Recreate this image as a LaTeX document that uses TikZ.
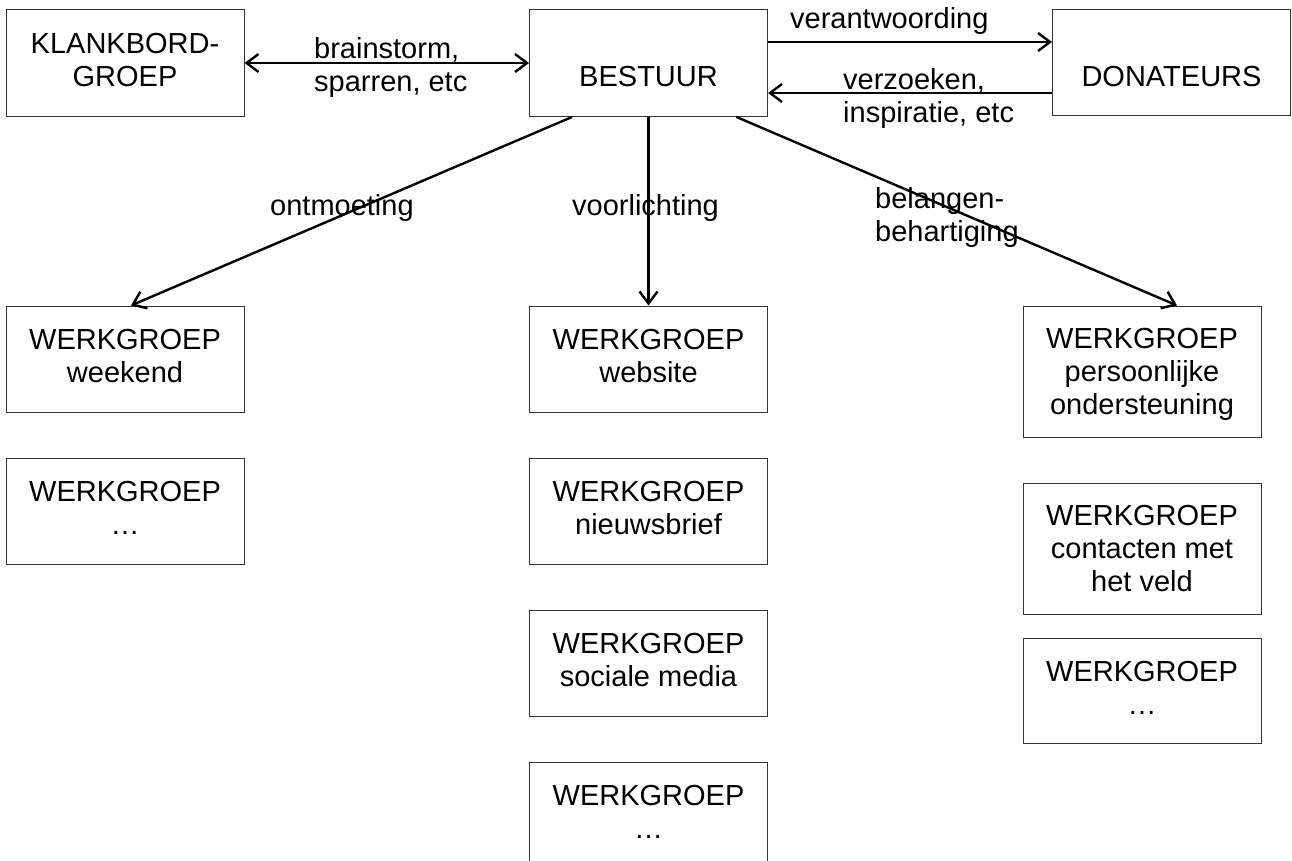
\documentclass[tikz,border=0pt]{standalone}
\usepackage{fontspec}
\setmainfont{Liberation Sans}
\usetikzlibrary{positioning,arrows.meta}

\begin{document}
\begin{tikzpicture}[x=1pt,y=-1pt,font=\fontsize{29pt}{33pt}\selectfont,
							groep/.style={draw=black!80,line width=1pt,minimum width=238pt,minimum height=106pt,inner sep=0pt,align=center,text depth=6pt},
							hoog/.style={groep,minimum height=131pt,text depth=0pt},
							laag/.style={text height=47pt,text depth=0pt},
							pijl/.style={line width=2.4pt,-{Straight Barb[length=12pt,width=18pt]}},
							tekst/.style={inner sep=0pt,align=left}]
							\useasboundingbox (0,0) rectangle (1292,861);
							\node[groep,minimum height=107pt] (klankbord) at (125,63) {KLANKBORD-\\GROEP};
							\node[groep,laag,minimum height=107pt] (bestuur) at (648.5,63) {BESTUUR};
							\node[groep,laag] (donateurs) at (1171.5,63) {DONATEURS};
							\node[groep] (weekend) at (125,359) {WERKGROEP\\weekend};
							\node[groep,below=45pt of weekend] (linksrest) {WERKGROEP\\…};
							\node[groep] (website) at (648.5,359) {WERKGROEP\\website};
							\node[groep,below=45pt of website] (nieuwsbrief) {WERKGROEP\\nieuwsbrief};
							\node[groep,below=45pt of nieuwsbrief] (socialemedia) {WERKGROEP\\sociale media};
							\node[groep,below=45pt of socialemedia] (middenrest) {WERKGROEP\\…};
							\node[hoog] (ondersteuning) at (1142,371.5) {WERKGROEP\\persoonlijke\\ondersteuning};
							\node[hoog,below=45pt of ondersteuning] (veld) {WERKGROEP\\contacten met\\het veld};
							\node[groep,minimum height=105pt,below=23pt of veld] (rechtsrest) {WERKGROEP\\…};
							\node[tekst,anchor=north west] (brainstorm) at (314,37) {brainstorm,\\sparren, etc};
							\node[tekst,anchor=base west] (verantwoording) at (790,29) {verantwoording};
							\node[tekst,anchor=north west] (verzoeken) at (843,68) {verzoeken,\\inspiratie, etc};
							\node[tekst,anchor=base west] (ontmoeting) at (270,215) {ontmoeting};
							\node[tekst,anchor=base west] (voorlichting) at (572,215) {voorlichting};
							\node[tekst,anchor=north west] (belangen) at (875,187) {belangen-\\behartiging};
							\draw[pijl,{Straight Barb[length=12pt,width=18pt]}-{Straight Barb[length=12pt,width=18pt]}] (klankbord) -- (bestuur);
							\draw[pijl] ([yshift=21pt]bestuur.east) -- ([yshift=21pt]donateurs.west);
							\draw[pijl] ([yshift=-30pt]donateurs.west) -- ([yshift=-30pt]bestuur.east);
							\draw[pijl] ([xshift=-76.5pt]bestuur.south) -- ([xshift=6pt]weekend.north);
							\draw[pijl] (bestuur) -- (website);
							\draw[pijl] ([xshift=88pt]bestuur.south) -- ([xshift=35pt]ondersteuning.north);
						\end{tikzpicture}
\end{document}
